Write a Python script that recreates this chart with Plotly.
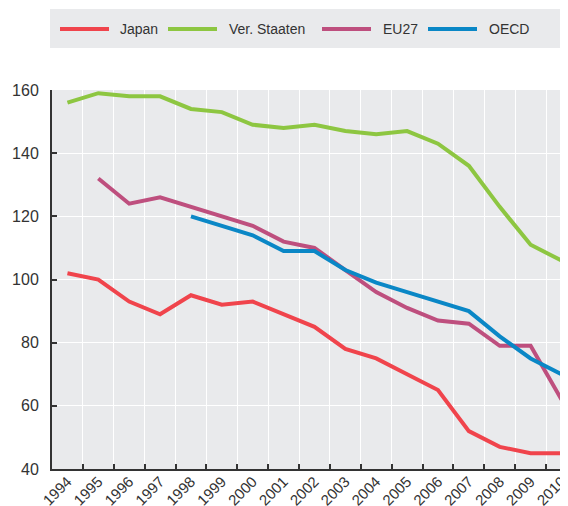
import plotly.graph_objects as go

years = list(range(1994, 2011))
year_labels = [str(y) for y in years]
japan = [102, 100, 93, 89, 95, 92, 93, 89, 85, 78, 75, 70, 65, 52, 47, 45, 45]
us = [156, 159, 158, 158, 154, 153, 149, 148, 149, 147, 146, 147, 143, 136, 123, 111, 106]
eu27 = [None, 132, 124, 126, 123, 120, 117, 112, 110, 103, 96, 91, 87, 86, 79, 79, 62]
oecd = [None, None, None, None, 120, 117, 114, 109, 109, 103, 99, 96, 93, 90, 82, 75, 70]
y_ticks = [40, 60, 80, 100, 120, 140, 160]

names = ["Japan", "Ver. Staaten", "EU27", "OECD"]
colors = ["#F0444C", "#8DC641", "#BE4F7E", "#0A87C6"]
series = [japan, us, eu27, oecd]

# the page body adds an 8px offset; layout is planned in screen pixels
OFF = 8
W, H = 568, 506
L, R, T = 52 - OFF, 0, 90 - OFF
B = H - (469 - OFF)
pw, ph = W - L - R, H - T - B

def px(x):
    return (x - OFF - L) / pw

def py(y):
    return (H - B - (y - OFF)) / ph

FONT = "Liberation Sans, Arial, sans-serif"
BG = "#E9EAEC"
AX = "#333333"

xrange_ = [years[0] - 0.5, years[0] - 0.5 + 16.97]
boundaries = [y - 0.5 for y in years]

fig = go.Figure()
for n, c, s in zip(names, colors, series):
    fig.add_trace(go.Scatter(x=years, y=s, mode="lines", name=n,
                             line=dict(color=c, width=4), showlegend=False,
                             connectgaps=False))
# invisible helper trace so the label axis is active
fig.add_trace(go.Scatter(x=years, y=japan, xaxis="x2", mode="lines",
                         line=dict(width=0), showlegend=False, hoverinfo="skip"))

shapes = [
    dict(type="rect", xref="paper", yref="paper", x0=px(50), x1=px(580),
         y0=py(48), y1=py(9), fillcolor=BG, line=dict(width=0)),
]
annotations = []
leg_line_x = [60, 168, 322, 428]
leg_text_x = [118, 227, 381, 487]
for n, c, lx, tx in zip(names, colors, leg_line_x, leg_text_x):
    shapes.append(dict(type="line", xref="paper", yref="paper", x0=px(lx), x1=px(lx + 49),
                       y0=py(29), y1=py(29), line=dict(color=c, width=4)))
    annotations.append(dict(xref="paper", yref="paper", x=px(tx), y=py(29), text=n,
                            showarrow=False, xanchor="left", yanchor="middle",
                            font=dict(family=FONT, size=14, color=AX)))

fig.update_layout(
    width=W, height=H,
    margin=dict(l=L, r=R, t=T, b=B, pad=0, autoexpand=False),
    paper_bgcolor="#FFFFFF", plot_bgcolor=BG,
    font=dict(family=FONT, size=15, color=AX),
    shapes=shapes, annotations=annotations,
    showlegend=False,
    xaxis=dict(type="linear", range=xrange_, tickmode="array", tickvals=boundaries,
               showticklabels=False, ticks="inside", ticklen=5, tickwidth=2, tickcolor=AX,
               showline=True, linecolor=AX, linewidth=2, zeroline=False,
               showgrid=True, gridcolor="#FFFFFF", gridwidth=1, automargin=False),
    xaxis2=dict(type="linear", overlaying="x", anchor="y", side="bottom", range=xrange_,
                tickmode="array", tickvals=years, ticktext=year_labels, tickangle=-45,
                ticks="", showline=False, showgrid=False, zeroline=False, automargin=False,
                tickfont=dict(family=FONT, size=15, color=AX)),
    yaxis=dict(range=[y_ticks[0], y_ticks[-1]], tickvals=y_ticks,
               ticks="inside", ticklen=5, tickwidth=2, tickcolor=AX,
               showline=True, linecolor=AX, linewidth=2,
               showgrid=True, gridcolor="#FFFFFF", gridwidth=1, zeroline=False,
               ticklabelstandoff=8, automargin=False,
               tickfont=dict(family=FONT, size=16, color=AX)),
)

fig.write_html("out.html")
